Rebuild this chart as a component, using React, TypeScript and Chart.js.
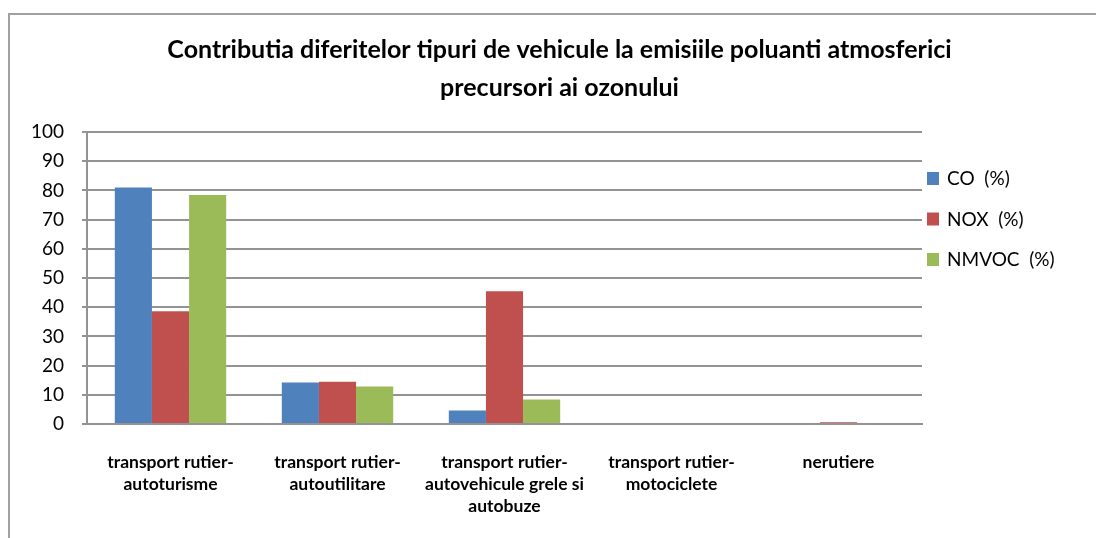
import React, { useEffect, useRef } from 'react';
import { Chart, registerables } from 'chart.js';

Chart.register(...registerables);

const categories: string[][] = [
  ['transport rutier-', 'autoturisme'],
  ['transport rutier-', 'autoutilitare'],
  ['transport rutier-', 'autovehicule grele si', 'autobuze'],
  ['transport rutier-', 'motociclete'],
  ['nerutiere'],
];
const seriesNames = ['CO  (%)', 'NOX  (%)', 'NMVOC  (%)'];
const seriesColors = ['#4F81BD', '#C0504D', '#9BBB59'];
const coValues = [81, 14.2, 4.6, 0, 0];
const noxValues = [38.6, 14.5, 45.5, 0, 0.6];
const nmvocValues = [78.4, 12.8, 8.4, 0, 0];
const yMin = 0;
const yMax = 100;
const yStep = 10;
const titleLines = [
  'Contributia diferitelor tipuri de vehicule la emisiile poluanti atmosferici',
  'precursori ai ozonului',
];

const FONT = 'Lato';
const GRID = '#939393';

const sideLegend = {
  id: 'sideLegend',
  afterDraw(chart: any) {
    const { ctx, chartArea } = chart;
    ctx.save();
    ctx.font = `19px ${FONT}`;
    ctx.textBaseline = 'middle';
    ctx.textAlign = 'left';
    chart.data.datasets.forEach((ds: any, i: number) => {
      const x = chartArea.right + 5;
      const y = chartArea.top + 40 + i * 40.5;
      ctx.fillStyle = ds.backgroundColor;
      ctx.fillRect(x, y, 12, 13);
      ctx.fillStyle = '#000';
      ctx.fillText(ds.label, x + 20, y + 7);
    });
    ctx.restore();
  },
};

export default function App() {
  const ref = useRef<HTMLCanvasElement>(null);

  useEffect(() => {
    if (!ref.current) return;
    const values = [coValues, noxValues, nmvocValues];
    const chart = new Chart(ref.current, {
      type: 'bar',
      data: {
        labels: categories,
        datasets: seriesNames.map((name, i) => ({
          label: name,
          data: values[i],
          backgroundColor: seriesColors[i],
          borderWidth: 0,
          categoryPercentage: 0.667,
          barPercentage: 1,
        })),
      },
      options: {
        responsive: false,
        animation: false,
        devicePixelRatio: 1,
        layout: { padding: { left: 13, right: 0, top: 0, bottom: 0 } },
        plugins: {
          // legend is only used to reserve the right-hand space; entries are drawn by sideLegend
          legend: {
            display: true,
            position: 'right',
            labels: { filter: () => false, padding: 164 },
          },
          tooltip: { enabled: false },
          title: {
            display: true,
            text: titleLines,
            color: '#000',
            font: { family: FONT, size: 25, weight: 'bold', lineHeight: 1.52 },
            padding: { top: 16, bottom: 25 },
          },
        },
        scales: {
          x: {
            grid: { display: false, drawTicks: false },
            border: { display: true, color: GRID, width: 2 },
            ticks: {
              color: '#000',
              font: { family: FONT, size: 17.5, weight: 'bold', lineHeight: 1.257 },
              padding: 27,
              maxRotation: 0,
              autoSkip: false,
            },
            afterFit: (scale: any) => {
              scale.height = 114;
            },
          },
          y: {
            min: yMin,
            max: yMax,
            ticks: {
              stepSize: yStep,
              color: '#000',
              font: { family: FONT, size: 19 },
              padding: 18,
            },
            grid: { color: GRID, lineWidth: 2, drawTicks: true, tickLength: 5 },
            border: { display: true, color: GRID, width: 2 },
            afterFit: (scale: any) => {
              scale.width = 64;
            },
          },
        },
      },
      plugins: [sideLegend],
    });
    return () => chart.destroy();
  }, []);

  return (
    <div
      style={{
        position: 'absolute',
        left: 8,
        top: 13,
        width: 1088,
        height: 525,
        borderLeft: '2px solid #a0a0a0',
        borderTop: '2px solid #a0a0a0',
      }}
    >
      <canvas ref={ref} width={1086} height={523} style={{ display: 'block' }} />
    </div>
  );
}
